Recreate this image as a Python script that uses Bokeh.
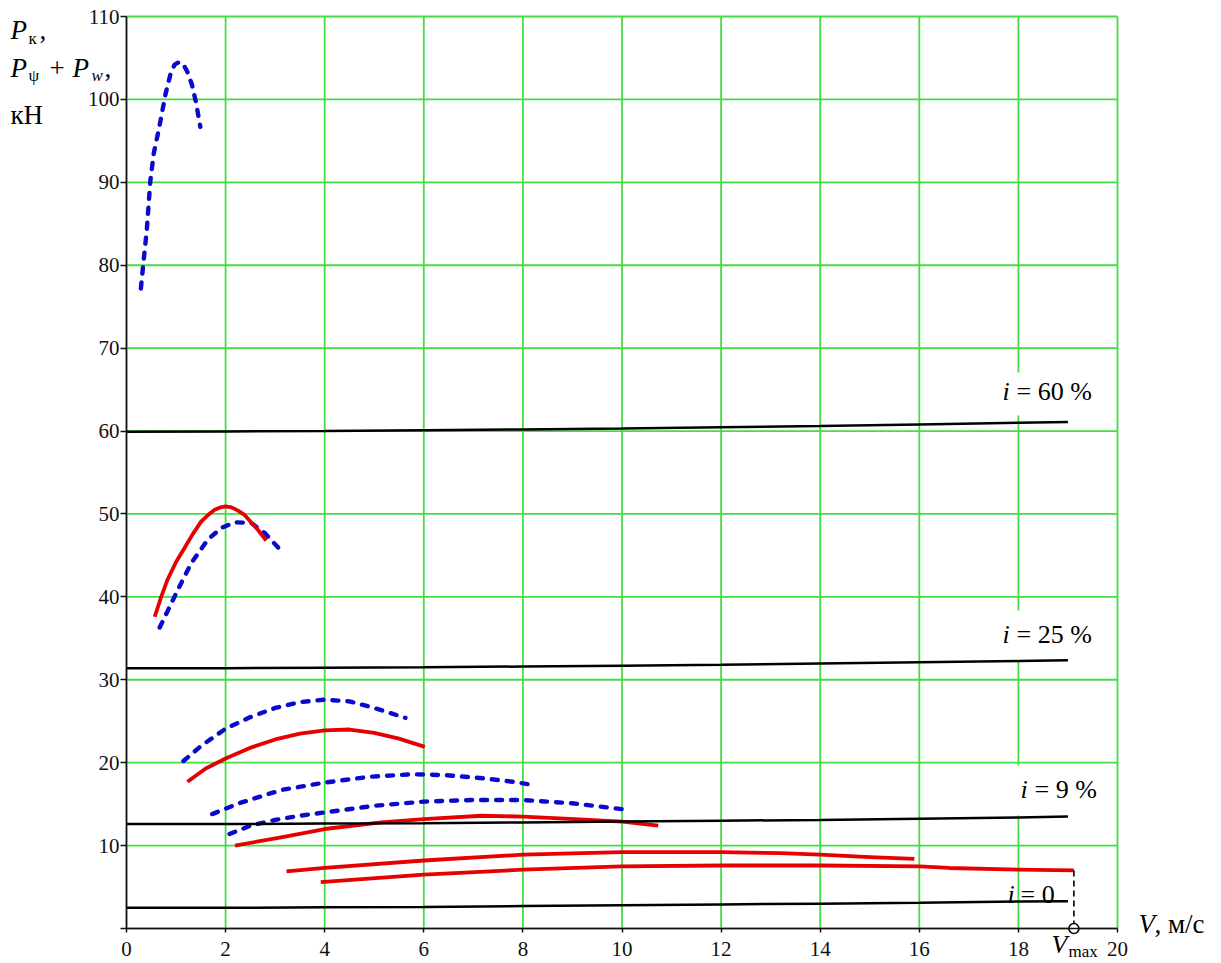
from bokeh.plotting import figure
from bokeh.models import Range1d, Label, FixedTicker
from bokeh.core.properties import value
from bokeh.embed import file_html
from bokeh.resources import INLINE

# ---------------- data ----------------
V_TICKS = list(range(0, 21, 2))
P_TICKS = list(range(0, 111, 10))

# resistance lines P_psi + P_w for different grades i
V_I = [0, 2, 4, 6, 8, 10, 12, 14, 16, 18, 19]
P_I0 = [2.5, 2.5, 2.55, 2.6, 2.7, 2.8, 2.9, 3.0, 3.1, 3.25, 3.3]
P_I9 = [12.6, 12.6, 12.65, 12.7, 12.8, 12.9, 13.0, 13.1, 13.25, 13.4, 13.5]
P_I25 = [31.4, 31.4, 31.45, 31.5, 31.6, 31.7, 31.8, 31.95, 32.1, 32.25, 32.35]
P_I60 = [59.9, 59.95, 60.0, 60.1, 60.2, 60.3, 60.45, 60.6, 60.8, 61.0, 61.1]
I_LABELS = ["0", "9 %", "25 %", "60 %"]

# traction force, dashed blue series
VB0 = [0.29, 0.34, 0.41, 0.48, 0.55, 0.65, 0.79, 0.89, 0.97, 1.06, 1.15, 1.23, 1.32, 1.40, 1.49]
PB0 = [77.2, 80.2, 84.3, 90.1, 93.5, 96.3, 100.7, 103.1, 104.2, 104.5, 104.2, 103.3, 101.8, 99.7, 96.7]
VB1 = [0.67, 1.04, 1.31, 1.64, 1.91, 2.18, 2.52, 2.79, 3.16]
PB1 = [36.3, 40.9, 44.1, 46.9, 48.3, 49.0, 48.9, 47.7, 45.3]
VB2 = [1.15, 1.5, 2.0, 2.5, 3.0, 3.5, 4.0, 4.5, 5.0, 5.63]
PB2 = [20.2, 22.0, 24.1, 25.5, 26.6, 27.3, 27.6, 27.4, 26.6, 25.4]
VB3 = [1.73, 2.27, 3.12, 4.0, 4.9, 5.75, 6.44, 7.22, 7.8, 8.22]
PB3 = [13.8, 15.1, 16.7, 17.6, 18.3, 18.6, 18.5, 18.1, 17.7, 17.3]
VB4 = [2.08, 2.5, 3.0, 3.5, 4.0, 5.0, 6.0, 7.0, 8.0, 9.0, 10.0]
PB4 = [11.4, 12.4, 13.1, 13.6, 14.0, 14.8, 15.3, 15.5, 15.5, 15.1, 14.4]

# traction force, solid red series
VR1 = [0.57, 0.7, 0.83, 1.0, 1.17, 1.34, 1.51, 1.65, 1.78, 1.9, 2.0, 2.12, 2.25, 2.38, 2.5, 2.65, 2.82]
PR1 = [37.6, 40.0, 42.1, 44.2, 45.9, 47.6, 49.1, 49.9, 50.5, 50.8, 50.9, 50.8, 50.4, 49.9, 49.1, 48.1, 46.8]
VR2 = [1.23, 1.6, 2.0, 2.5, 3.0, 3.5, 4.0, 4.5, 5.0, 5.5, 6.02]
PR2 = [17.7, 19.3, 20.5, 21.8, 22.8, 23.5, 23.9, 24.0, 23.6, 22.9, 21.9]
VR3 = [2.19, 3.12, 4.0, 5.14, 6.0, 7.17, 8.0, 9.05, 10.0, 10.73]
PR3 = [10.0, 11.0, 12.0, 12.8, 13.2, 13.6, 13.5, 13.2, 12.9, 12.4]
VR4 = [3.23, 4.0, 6.0, 8.0, 10.0, 12.0, 13.2, 14.0, 15.0, 15.9]
PR4 = [6.9, 7.3, 8.2, 8.9, 9.2, 9.2, 9.1, 8.9, 8.6, 8.4]
VR5 = [3.92, 6.0, 8.0, 10.0, 12.0, 14.0, 16.0, 16.6, 18.0, 19.12]
PR5 = [5.6, 6.5, 7.1, 7.5, 7.6, 7.6, 7.5, 7.3, 7.1, 7.0]

# ---------------- layout ----------------
W, H = 1218, 962
FL, FR, FT, FB = 126, 1117, 16, 928   # where V=0..20, P=0..110 sit on the canvas
X0, X1, Y0, Y1 = V_TICKS[0], V_TICKS[-1], P_TICKS[0], P_TICKS[-1]

FONT = "Liberation Serif"
RED = "#e60000"
BLUE = "#0a0acc"
GREEN = "#44dd44"
AXIS = "#111111"


def dx(px):
    return X0 + (px - FL) / (FR - FL) * (X1 - X0)


def dy(py):
    return Y0 + (FB - py) / (FB - FT) * (Y1 - Y0)


def mid(baseline, size):
    # vertical centre of a text line whose baseline is at `baseline`
    return dy(baseline - 0.34 * size)


p = figure(width=W, height=H,
           x_range=Range1d(dx(0), dx(W)), y_range=Range1d(dy(H), dy(0)),
           output_backend="svg", toolbar_location=None,
           min_border=0, min_border_left=0, min_border_right=0,
           min_border_top=0, min_border_bottom=0)
p.outline_line_color = None
p.background_fill_color = "white"
p.grid.visible = False

# axes crossing at the origin
p.xaxis.fixed_location = 0
p.yaxis.fixed_location = 0
p.xaxis.bounds = (X0, X1)
p.yaxis.bounds = (Y0, Y1)
p.xaxis.ticker = FixedTicker(ticks=V_TICKS)
p.yaxis.ticker = FixedTicker(ticks=P_TICKS)
for ax in (p.xaxis[0], p.yaxis[0]):
    ax.axis_line_color = AXIS
    ax.axis_line_width = 1.6
    ax.major_tick_line_color = AXIS
    ax.major_tick_line_width = 1.5
    ax.major_tick_in = 0
    ax.minor_tick_line_color = None
    ax.major_label_text_font = FONT
    ax.major_label_text_font_size = "21px"
    ax.major_label_text_color = AXIS
p.xaxis.major_tick_out = 4
p.yaxis.major_tick_out = 6
p.xaxis.major_label_standoff = 9
p.yaxis.major_label_standoff = 1
p.yaxis.major_label_overrides = {0: ""}

# green grid inside the data area
p.segment(x0=V_TICKS, y0=[Y0] * len(V_TICKS), x1=V_TICKS, y1=[Y1] * len(V_TICKS),
          line_color=GREEN, line_width=1.8)
p.segment(x0=[X0] * len(P_TICKS), y0=P_TICKS, x1=[X1] * len(P_TICKS), y1=P_TICKS,
          line_color=GREEN, line_width=1.8)

# white boxes behind the grade labels
for (l, r, t, b) in [(996, 1112, 372, 415), (996, 1112, 610, 660), (1015, 1112, 765, 815)]:
    p.quad(left=dx(l), right=dx(r), top=dy(t), bottom=dy(b),
           fill_color="white", line_color=None)

# i = 0 label (under the line, as in the original)
p.text(x=[dx(1007)], y=[mid(903, 26)], text=["i"], text_font=value(FONT),
       text_font_size=value("26px"), text_font_style="italic",
       text_baseline="middle", text_align="left", text_color="black")
p.text(x=[dx(1020)], y=[mid(903, 26)], text=["= " + I_LABELS[0]], text_font=value(FONT),
       text_font_size=value("26px"), text_baseline="middle",
       text_align="left", text_color="black")

# blue dashed curves
for vv, pp in [(VB0, PB0), (VB1, PB1), (VB2, PB2), (VB3, PB3), (VB4, PB4)]:
    p.line(vv, pp, line_color=BLUE, line_width=4.4, line_dash="6 9", line_cap="round")

# red solid curves
for vv, pp in [(VR1, PR1), (VR2, PR2), (VR3, PR3), (VR4, PR4), (VR5, PR5)]:
    p.line(vv, pp, line_color=RED, line_width=3.8, line_join="round")

# black resistance lines
for pp in [P_I0, P_I9, P_I25, P_I60]:
    p.line(V_I, pp, line_color="black", line_width=2.5)

# V max marker
VMAX = VR5[-1]
p.line([VMAX, VMAX], [PR5[-1], 0], line_color="black", line_width=1.6, line_dash="6 4")
p.scatter([VMAX], [0], size=10, marker="circle", fill_color="white",
          line_color="black", line_width=1.6)


def lab(px, base, text, size, italic=False, align="left"):
    p.add_layout(Label(x=dx(px), y=mid(base, size), text=text, text_font=FONT,
                       text_font_size=f"{size}px",
                       text_font_style="italic" if italic else "normal",
                       text_baseline="middle", text_align=align,
                       text_color="black"))


# grade labels
for (px, base, t) in [(1002, 400, I_LABELS[3]), (1002, 643, I_LABELS[2]), (1020, 798, I_LABELS[1])]:
    lab(px, base, "i", 26, italic=True)
    lab(px + 14, base, "= " + t, 26)

# x axis title
lab(1138, 933, "V", 27, italic=True)
lab(1154, 933, ", м/с", 27)

# V max label
lab(1051, 953, "V", 26, italic=True)
lab(1068, 957, "max", 17)

# y axis title
lab(10, 39, "P", 27, italic=True)
lab(28, 44, "к", 17)
lab(39, 39, ",", 27)
lab(10, 77, "P", 27, italic=True)
lab(28, 81, "ψ", 17)
lab(49, 77, "+", 27)
lab(72, 77, "P", 27, italic=True)
lab(91, 81, "w", 17, italic=True)
lab(104, 77, ",", 27)
lab(10, 124, "кН", 27)

open("out.html", "w").write(file_html(p, INLINE))
